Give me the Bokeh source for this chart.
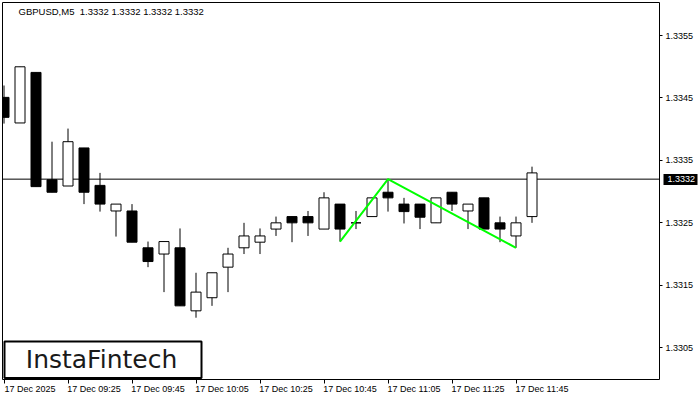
from bokeh.plotting import figure
from bokeh.models import (ColumnDataSource, FixedTicker, Range1d, Span, Label,
                          BoxAnnotation, NumeralTickFormatter, LinearAxis)
from bokeh.embed import file_html
from bokeh.resources import INLINE

# ---------------- data ----------------
symbol = "GBPUSD,M5"
last_price = 1.3332
times = ["09:05", "09:10", "09:15", "09:20", "09:25", "09:30", "09:35", "09:40",
         "09:45", "09:50", "09:55", "10:00", "10:05", "10:10", "10:15", "10:20",
         "10:25", "10:30", "10:35", "10:40", "10:45", "10:50", "10:55", "11:00",
         "11:05", "11:10", "11:15", "11:20", "11:25", "11:30", "11:35", "11:40",
         "11:45", "11:50"]
opens = [1.33451, 1.33410, 1.33491, 1.33319, 1.33309, 1.33370, 1.33310, 1.33269,
         1.33269, 1.33210, 1.33200, 1.33210, 1.33109, 1.33130, 1.33179, 1.33210,
         1.33219, 1.33240, 1.33260, 1.33260, 1.33240, 1.33280, 1.33250, 1.33260,
         1.33299, 1.33280, 1.33280, 1.33250, 1.33299, 1.33269, 1.33290, 1.33250,
         1.33229, 1.33260]
highs = [1.33470, 1.33500, 1.33491, 1.33380, 1.33401, 1.33370, 1.33330, 1.33280,
         1.33280, 1.33220, 1.33220, 1.33241, 1.33170, 1.33170, 1.33210, 1.33250,
         1.33241, 1.33260, 1.33260, 1.33269, 1.33299, 1.33280, 1.33269, 1.33290,
         1.33319, 1.33290, 1.33280, 1.33290, 1.33299, 1.33280, 1.33290, 1.33260,
         1.33260, 1.33340]
lows = [1.33409, 1.33410, 1.33308, 1.33299, 1.33309, 1.33280, 1.33268, 1.33228,
        1.33219, 1.33179, 1.33139, 1.33117, 1.33098, 1.33117, 1.33139, 1.33200,
        1.33200, 1.33229, 1.33219, 1.33229, 1.33240, 1.33220, 1.33240, 1.33260,
        1.33268, 1.33249, 1.33240, 1.33250, 1.33269, 1.33240, 1.33240, 1.33219,
        1.33210, 1.33250]
closes = [1.33419, 1.33500, 1.33308, 1.33299, 1.33380, 1.33299, 1.33280, 1.33280,
          1.33219, 1.33188, 1.33220, 1.33117, 1.33139, 1.33170, 1.33200, 1.33229,
          1.33229, 1.33250, 1.33250, 1.33250, 1.33290, 1.33240, 1.33250, 1.33290,
          1.33290, 1.33268, 1.33259, 1.33290, 1.33280, 1.33280, 1.33240, 1.33240,
          1.33250, 1.33330]
tick_idx = [0, 4, 8, 12, 16, 20, 24, 28, 32]
tick_labels = ["17 Dec 2025", "17 Dec 09:25", "17 Dec 09:45", "17 Dec 10:05",
               "17 Dec 10:25", "17 Dec 10:45", "17 Dec 11:05", "17 Dec 11:25",
               "17 Dec 11:45"]
price_ticks = [1.3305, 1.3315, 1.3325, 1.3335, 1.3345, 1.3355]
pattern_idx = [21, 24, 32]
pattern_price = [1.3322, 1.3332, 1.3321]
brand = "InstaFintech"

# ---------------- layout ----------------
W, H = 700, 400
BL, BT, BR, BB = 2, 2, 41, 21
FW, FH = W - BL - BR, H - BT - BB
FONT = "Liberation Sans"
LABEL_SHIFT = 1.625   # bottom labels start at their tick (left aligned look)

p = figure(width=W, height=H, output_backend="svg", toolbar_location=None,
           x_range=Range1d(-0.09375, 40.96875), y_range=Range1d(1.32999, 1.33603),
           y_axis_location="right", x_axis_location="below",
           min_border_left=BL, min_border_top=BT, min_border_right=BR,
           min_border_bottom=BB, background_fill_color="white",
           border_fill_color="white", outline_line_color="black",
           outline_line_width=1)
p.xgrid.visible = False
p.ygrid.visible = False

# price axis
ya = p.yaxis[0]
ya.ticker = FixedTicker(ticks=price_ticks)
ya.formatter = NumeralTickFormatter(format="0.0000")
ya.axis_line_color = None
ya.major_tick_out = 3
ya.major_tick_in = 0
ya.minor_tick_out = 0
ya.minor_tick_in = 0
ya.major_label_standoff = 3
ya.major_label_text_font = FONT
ya.major_label_text_font_size = "9px"
ya.major_label_text_color = "black"

# current price tag: a second right axis, its wide tick is the black box
tag = LinearAxis(ticker=FixedTicker(ticks=[last_price]),
                 formatter=NumeralTickFormatter(format="0.0000"))
tag.axis_line_color = None
tag.major_tick_in = 33
tag.major_tick_out = 1
tag.major_tick_line_width = 11
tag.major_tick_line_color = "black"
tag.major_tick_line_cap = "butt"
tag.minor_tick_in = 0
tag.minor_tick_out = 0
tag.major_label_standoff = -30
tag.major_label_text_font = FONT
tag.major_label_text_font_size = "9px"
tag.major_label_text_color = "white"
p.add_layout(tag, "right")

# time axis: labels on shifted major ticks, marks on minor ticks
xa = p.xaxis[0]
xa.ticker = FixedTicker(ticks=[t + LABEL_SHIFT for t in tick_idx],
                        minor_ticks=tick_idx)
xa.major_label_overrides = {t + LABEL_SHIFT: s for t, s in zip(tick_idx, tick_labels)}
xa.axis_line_color = None
xa.major_tick_out = 0
xa.major_tick_in = 0
xa.major_tick_line_color = None
xa.minor_tick_out = 4
xa.minor_tick_in = 0
xa.minor_tick_line_color = "black"
xa.major_label_standoff = 0
xa.major_label_text_font = FONT
xa.major_label_text_font_size = "9px"
xa.major_label_text_color = "black"

n = len(opens)
src = ColumnDataSource(dict(
    x=list(range(n)), low=lows, high=highs,
    top=[max(o, c) for o, c in zip(opens, closes)],
    bottom=[min(o, c) for o, c in zip(opens, closes)],
    fill=["white" if c > o else "black" for o, c in zip(opens, closes)],
))

p.add_layout(Span(location=last_price, dimension="width", line_color="black",
                  line_width=1, level="underlay"))
p.segment(x0="x", y0="low", x1="x", y1="high", source=src, line_color="black",
          line_width=1)
p.vbar(x="x", width=0.625, top="top", bottom="bottom", source=src,
       fill_color="fill", line_color="black", line_width=1)
p.line(pattern_idx, pattern_price, line_color="#00ff00", line_width=2)

# title
title_text = symbol + "\u00a0\u00a0" + " ".join(f"{v:.4f}" for v in [last_price] * 4)
p.add_layout(Label(x=16, y=FH - 9, x_units="screen", y_units="screen",
                   text=title_text, text_font=FONT, text_font_size="9.5px",
                   text_baseline="middle", text_align="left", text_color="black"))

# logo
p.add_layout(BoxAnnotation(left=2, right=199, bottom=1.5, top=38,
                           left_units="screen", right_units="screen",
                           bottom_units="screen", top_units="screen",
                           fill_color="white", fill_alpha=1.0,
                           line_color="black", line_alpha=1.0, line_width=2,
                           level="overlay"))
p.add_layout(Label(x=99, y=20, x_units="screen", y_units="screen", text=brand,
                   text_font="DejaVu Sans", text_font_size="25px",
                   text_align="center", text_baseline="middle",
                   text_color="#1a1a1a", level="overlay"))

open("out.html", "w").write(file_html(p, INLINE))
